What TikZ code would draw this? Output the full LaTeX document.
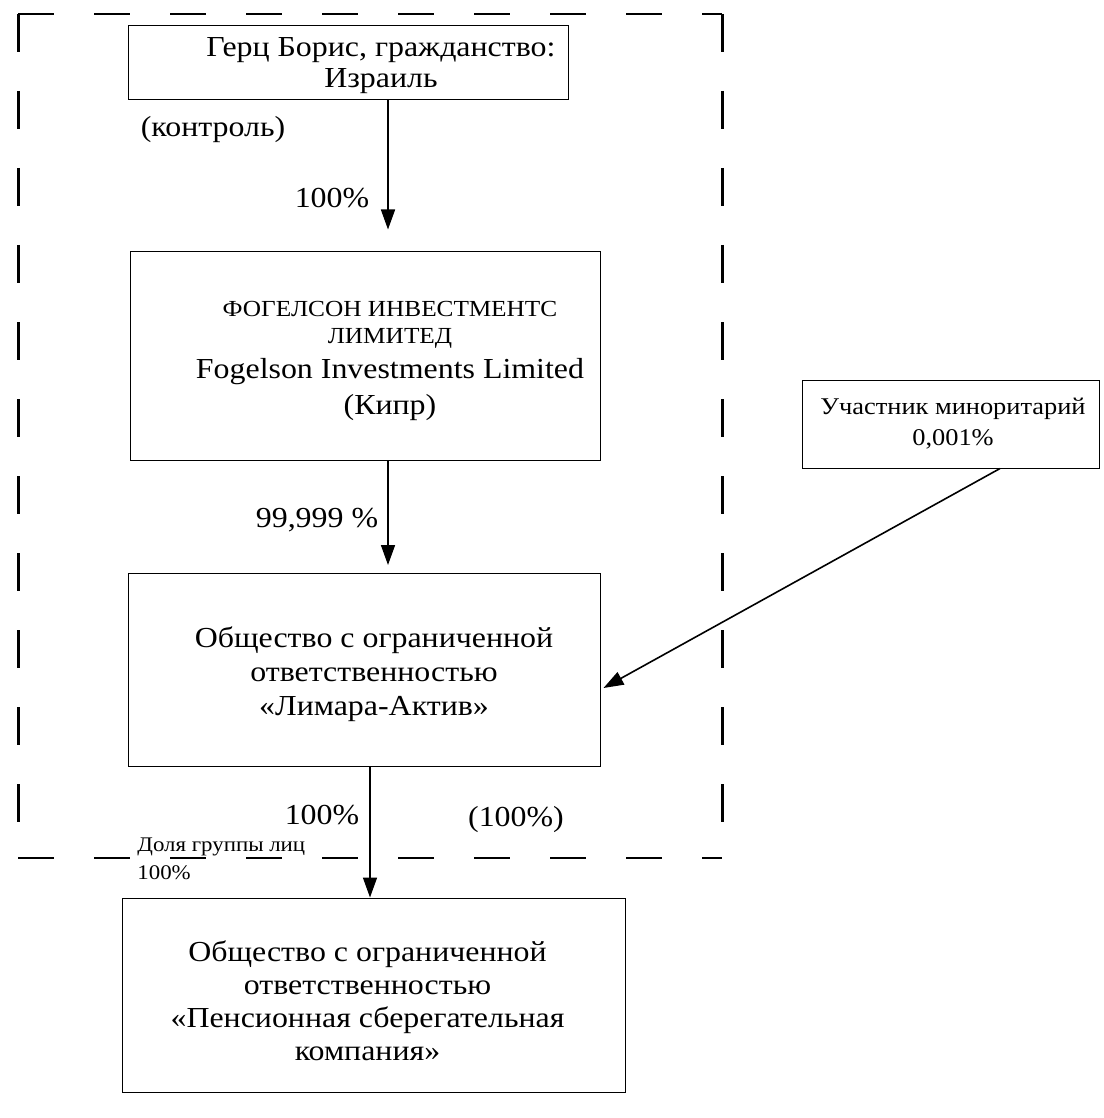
\documentclass[tikz,border=0pt]{standalone}
\usepackage{fontspec}
\setmainfont[FakeStretch=1.1]{Liberation Serif}
\usetikzlibrary{arrows.meta,calc}
\tikzset{
  box/.style={draw, line width=0.5pt, inner sep=0pt},
  txt/.style={align=center, inner sep=0pt, font=\fontsize{14.5}{17}\selectfont},
  lbl/.style={font=\fontsize{14.5}{17}\selectfont, inner sep=0pt},
  arr/.style={line width=0.8pt, -{Triangle[length=10pt,width=7pt]}},
  frameh/.style={line width=0.9pt, dash pattern=on 18pt off 20pt},
  framev/.style={line width=1.5pt, dash pattern=on 19pt off 19.5pt}
}
\newcommand{\smallcaps}[1]{{\fontsize{11.5}{11.5}\selectfont #1}}

\begin{document}
\begin{tikzpicture}[x=0.5pt,y=-0.5pt]
		%%%%% START %%%%%
		\useasboundingbox (0,0) rectangle (1103,1118);
		
		% group frame
		\draw[frameh] (18,14) -- (722,14);
		\draw[frameh] (18,858) -- (722,858);
		\draw[framev] (18,14) -- (18,858);
		\draw[framev] (722,14) -- (722,858);
		
		% boxes
		\node[box, minimum width=220pt, minimum height=37pt] (gerz) at (348,63) {};
		\node[box, minimum width=235pt, minimum height=104pt] (fog) at (365,356) {};
		\node[box, minimum width=236pt, minimum height=96.5pt] (lim) at (364,670) {};
		\node[box, minimum width=251.5pt, minimum height=97pt] (psk) at (373.5,995) {};
		\node[box, minimum width=148.5pt, minimum height=44pt] (minor) at (951,424) {};
		
		% box texts
		\node[txt, font=\fontsize{14.5}{15.5}\selectfont] (gerz-t) at ($(gerz)+(33,3)$) {Герц Борис, гражданство:\\Израиль};
		\node[txt] (fog-t) at ($(fog)+(25,5)$)
		  {\smallcaps{ФОГЕЛСОН ИНВЕСТМЕНТС}\\[-3.5pt]\smallcaps{ЛИМИТЕД}\\[0.5pt]Fogelson Investments Limited\\[1pt](Кипр)};
		\node[txt] (lim-t) at ($(lim)+(10,4)$) {Общество с ограниченной\\ответственностью\\«Лимара-Актив»};
		\node[txt, font=\fontsize{14.5}{16.5}\selectfont] (psk-t) at ($(psk)+(-6,6)$) {Общество с ограниченной\\ответственностью\\«Пенсионная сберегательная\\компания»};
		\node[txt, font=\fontsize{12}{15.5}\selectfont] (minor-t) at ($(minor)+(2,0)$) {Участник миноритарий\\0,001\%};
		
		% arrows
		\coordinate (a1) at (388,0);
		\coordinate (a3) at (370,0);
		\draw[arr, shorten >=11pt] (gerz.south -| a1) -- (fog.north -| a1);
		\draw[arr, shorten >=4pt] (fog.south -| a1) -- (lim.north -| a1);
		\draw[arr] (lim.south -| a3) -- (psk.north -| a3);
		\draw[arr] ($(minor.south)+(49,0)$) -- ($(lim.east)+(3,18)$);
		
		% labels
		\node[lbl] (ctl) at (213,130) {(контроль)};
		\node[lbl] (p1) at (332,198) {100\%};
		\node[lbl] (p2) at (317,520) {99,999 \%};
		\node[lbl] (p3) at (322,815) {100\%};
		\node[lbl] (p4) at (516,820) {(100\%)};
		\node[lbl, font=\fontsize{10.4}{14}\selectfont, align=left, anchor=west] (grp) at (137,859) {Доля группы лиц\\100\%};
		
		%%%%% END %%%%%
\end{tikzpicture}
\end{document}
